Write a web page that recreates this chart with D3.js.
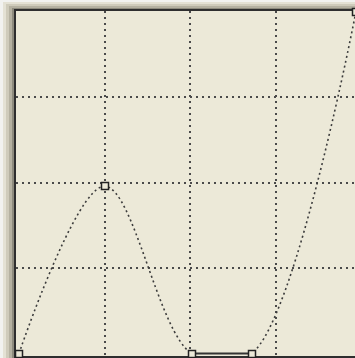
<!DOCTYPE html>
<html>
<head>
<meta charset="utf-8">
<script src="https://cdn.jsdelivr.net/npm/d3@7"></script>
<style>
  html, body { margin: 0; padding: 0; background: #f2f2f0; overflow: hidden; }
</style>
</head>
<body>
<svg width="355" height="358"></svg>
<script>
// knots of the curve, normalized 0..1 on both axes
const knotX = [0, 0.25, 0.505, 0.68, 0.985]
const knotY = [0, 0.49, 0, 0, 1]
const gridTicks = [0.25, 0.5, 0.75]

const W = 355
const H = 358

let svg = d3.select('svg')

// sunken frame, drawn as nested bands
let bands = [
  {x: 3, y: 2, c: '#e4e1d4'},
  {x: 6, y: 4, c: '#cfcbbb'},
  {x: 9, y: 6, c: '#b5b1a1'},
  {x: 12, y: 8, c: '#8e8b7e'}
]
bands.forEach(function (b) {
  svg.append('rect')
    .attr('x', b.x).attr('y', b.y)
    .attr('width', W - b.x).attr('height', H - b.y)
    .attr('fill', b.c)
})

// plot box, its right side runs out of the window
svg.append('rect')
  .attr('x', 15).attr('y', 10)
  .attr('width', 350).attr('height', 347)
  .attr('fill', '#ece9d8')
  .attr('stroke', '#2e2e2e')
  .attr('stroke-width', 2)

let x = d3.scaleLinear().domain([0, 1]).range([19, 361])
let y = d3.scaleLinear().domain([0, 1]).range([353.5, 12])

svg.append('clipPath').attr('id', 'plot')
  .append('rect')
  .attr('x', 16).attr('y', 11)
  .attr('width', 348).attr('height', 345)

let g = svg.append('g').attr('clip-path', 'url(#plot)')

// dotted grid
gridTicks.forEach(function (t) {
  g.append('line')
    .attr('x1', Math.round(x(t))).attr('x2', Math.round(x(t)))
    .attr('y1', 11).attr('y2', 356)
    .attr('stroke', '#4a4a4a')
    .attr('stroke-width', 2)
    .attr('stroke-dasharray', '2,4')
  g.append('line')
    .attr('x1', 16).attr('x2', 364)
    .attr('y1', Math.round(y(t))).attr('y2', Math.round(y(t)))
    .attr('stroke', '#4a4a4a')
    .attr('stroke-width', 2)
    .attr('stroke-dasharray', '2,4')
})

let pts = knotX.map((k, i) => [k, knotY[i]])

let line = d3.line()
  .x(d => x(d[0]))
  .y(d => y(d[1]))
  .curve(d3.curveCatmullRom)

g.append('path')
  .attr('d', line(pts))
  .attr('fill', 'none')
  .attr('stroke', '#3c3c3c')
  .attr('stroke-width', 1.6)
  .attr('stroke-dasharray', '2,3')

// flat segment between the two bottom knots
svg.append('line')
  .attr('x1', x(knotX[2])).attr('x2', x(knotX[3]))
  .attr('y1', y(knotY[2])).attr('y2', y(knotY[3]))
  .attr('stroke', '#333')
  .attr('stroke-width', 2)

// knot handles
svg.selectAll('rect.knot')
  .data(pts)
  .enter().append('rect')
  .attr('class', 'knot')
  .attr('x', d => Math.round(x(d[0])) - 3.5)
  .attr('y', d => Math.round(y(d[1])) - 3.5)
  .attr('width', 7).attr('height', 7)
  .attr('fill', '#ece9d8')
  .attr('stroke', '#222')
  .attr('stroke-width', 1.5)
</script>
</body>
</html>
